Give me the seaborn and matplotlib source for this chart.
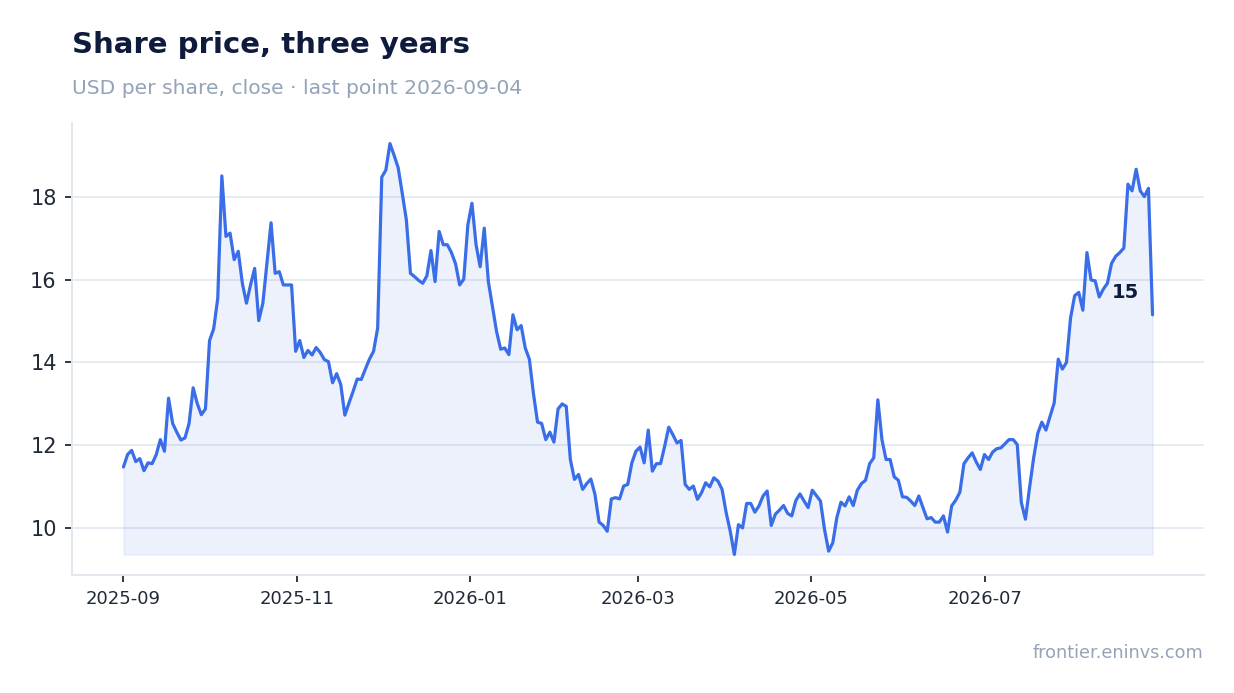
import numpy as np
import pandas as pd
import matplotlib
matplotlib.use("Agg")
import matplotlib.pyplot as plt
import matplotlib.dates as mdates
import seaborn as sns

# daily closes (252 trading days)
prices = [
    11.48, 11.78, 11.88, 11.61, 11.68, 11.39, 11.58, 11.56, 11.78, 12.14,
    11.86, 13.14, 12.53, 12.32, 12.13, 12.18, 12.53, 13.39, 13.01, 12.74,
    12.88, 14.53, 14.81, 15.55, 18.50, 17.04, 17.12, 16.48, 16.68, 15.91,
    15.43, 15.87, 16.27, 15.01, 15.43, 16.39, 17.37, 16.15, 16.19, 15.87,
    15.87, 15.87, 14.27, 14.53, 14.12, 14.29, 14.18, 14.36, 14.24, 14.07,
    14.02, 13.51, 13.73, 13.47, 12.73, 13.02, 13.30, 13.60, 13.59, 13.84,
    14.08, 14.27, 14.83, 18.47, 18.64, 19.28, 19.00, 18.70, 18.08, 17.44,
    16.15, 16.07, 15.98, 15.91, 16.09, 16.70, 15.95, 17.16, 16.84, 16.84,
    16.65, 16.38, 15.87, 16.01, 17.32, 17.84, 16.84, 16.31, 17.24, 15.95,
    15.35, 14.75, 14.32, 14.35, 14.19, 15.15, 14.79, 14.89, 14.35, 14.08,
    13.25, 12.56, 12.53, 12.14, 12.32, 12.08, 12.88, 13.00, 12.94, 11.66,
    11.18, 11.30, 10.94, 11.08, 11.19, 10.82, 10.15, 10.07, 9.93, 10.71,
    10.74, 10.71, 11.02, 11.06, 11.58, 11.86, 11.96, 11.58, 12.37, 11.38,
    11.56, 11.56, 11.98, 12.44, 12.26, 12.06, 12.12, 11.06, 10.94, 11.02,
    10.70, 10.86, 11.10, 11.00, 11.22, 11.14, 10.94, 10.38, 9.93, 9.37,
    10.09, 10.01, 10.60, 10.60, 10.39, 10.54, 10.78, 10.90, 10.07, 10.34,
    10.44, 10.55, 10.36, 10.30, 10.67, 10.83, 10.66, 10.50, 10.92, 10.79,
    10.66, 9.97, 9.45, 9.65, 10.26, 10.63, 10.54, 10.76, 10.55, 10.92,
    11.08, 11.16, 11.56, 11.70, 13.10, 12.14, 11.66, 11.66, 11.24, 11.16,
    10.76, 10.75, 10.66, 10.55, 10.78, 10.50, 10.23, 10.26, 10.15, 10.15,
    10.30, 9.91, 10.54, 10.68, 10.87, 11.56, 11.70, 11.82, 11.60, 11.42,
    11.78, 11.66, 11.84, 11.92, 11.94, 12.04, 12.14, 12.14, 12.02, 10.62,
    10.22, 10.98, 11.70, 12.29, 12.56, 12.37, 12.70, 13.02, 14.08, 13.84,
    14.00, 15.07, 15.61, 15.69, 15.26, 16.65, 15.99, 15.97, 15.58, 15.77,
    15.91, 16.39, 16.56, 16.65, 16.76, 18.30, 18.14, 18.66, 18.14, 18.00,
    18.20, 15.15,
]
start_date = "2025-09-01"
end_date = "2026-08-29"
x_ticks = ["2025-09", "2025-11", "2026-01", "2026-03", "2026-05", "2026-07"]
y_ticks = [10, 12, 14, 16, 18]

title = "Share price, three years"
subtitle = "USD per share, close \u00b7 last point 2026-09-04"
source = "frontier.eninvs.com"

LINE = "#3a6ee8"
NAVY = "#0f1b3d"
MUTED = "#94a3b8"
GRID = "#e3e8f0"
TICK = "#1f2937"

dates = pd.date_range(start_date, end_date, periods=len(prices))
df = pd.DataFrame({"date": dates, "close": prices})

sns.set_theme(style="white")
plt.rcParams["font.family"] = ["DejaVu Sans"]

W, H = 1234, 693
fig = plt.figure(figsize=(W / 100, H / 100), dpi=100)
ax = fig.add_axes([72 / W, 1 - 575 / H, (1204 - 72) / W, (575 - 123) / H])

ax.fill_between(df["date"], df["close"], df["close"].min(),
                color=LINE, alpha=0.09, linewidth=1, zorder=1)
sns.lineplot(data=df, x="date", y="close", ax=ax, color=LINE, linewidth=2.3, zorder=3)

ax.set_yticks(y_ticks)
ax.set_xticks(pd.to_datetime(x_ticks))
ax.xaxis.set_major_formatter(mdates.DateFormatter("%Y-%m"))
ax.set_xlabel("")
ax.set_ylabel("")

ax.grid(axis="y", color=GRID, linewidth=1.2, zorder=0)
ax.grid(axis="x", visible=False)
ax.set_axisbelow(True)
for side in ["top", "right"]:
    ax.spines[side].set_visible(False)
for side in ["left", "bottom"]:
    ax.spines[side].set_color(GRID)
    ax.spines[side].set_linewidth(1.5)

ax.tick_params(axis="x", labelsize=13, colors=TICK, length=5, width=1.3, pad=6, bottom=True)
ax.tick_params(axis="y", labelsize=15, colors=TICK, length=5, width=1.3, pad=6, left=True)

last = df.iloc[-1]
ax.annotate(f"{last['close']:.0f}", xy=(last["date"], last["close"]),
            xytext=(-13, 22), textcoords="offset pixels",
            ha="right", va="center", fontsize=14, fontweight="bold", color=NAVY)

fig.text(72 / W, 1 - 53 / H, title, fontsize=21, fontweight="bold", color=NAVY,
         ha="left", va="baseline")
fig.text(72 / W, 1 - 94 / H, subtitle, fontsize=14.6, color=MUTED, ha="left", va="baseline")
fig.text(1203 / W, 1 - 658 / H, source, fontsize=12.7, color=MUTED, ha="right", va="baseline")

fig.savefig("out.png", dpi=100)
